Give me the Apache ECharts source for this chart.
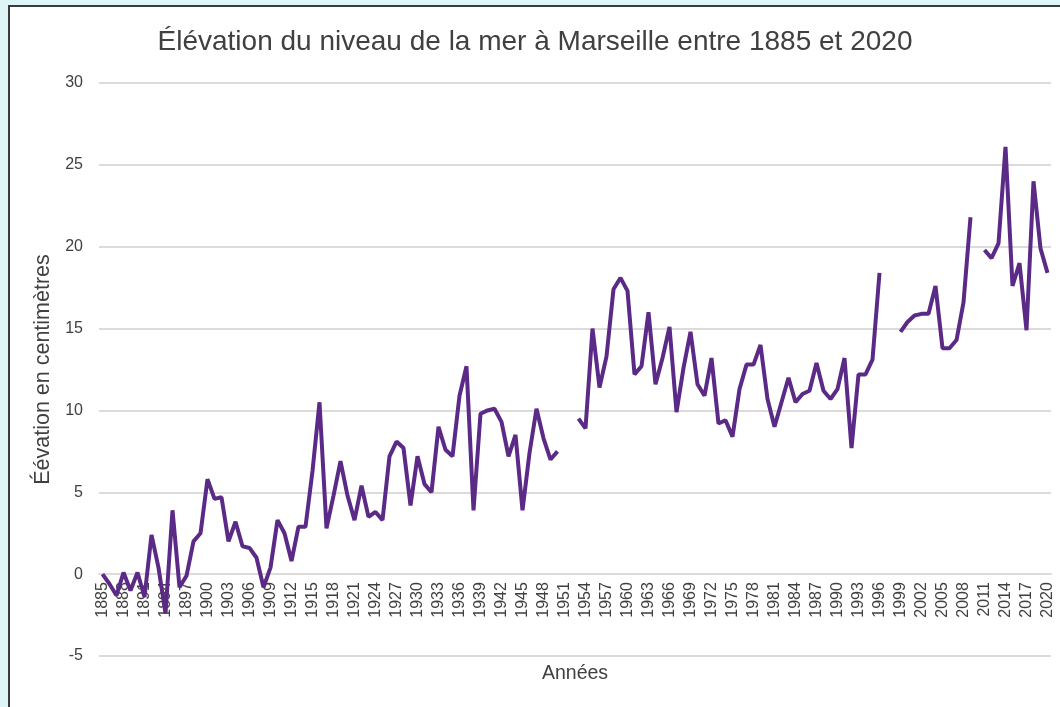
<!DOCTYPE html>
<html lang="fr">
<head>
  <meta charset="UTF-8">
  <title>Élévation du niveau de la mer à Marseille</title>
  <script src="https://cdn.jsdelivr.net/npm/echarts@6/dist/echarts.min.js"></script>
  <style>
    html, body {
      margin: 0;
      padding: 0;
      background: #def5f8;
      overflow: hidden;
    }
    #main {
      position: absolute;
      left: 8px;
      top: 5px;
      width: 1050px;
      height: 700px;
      background: #fff;
      border-left: 2px solid #3a3a3a;
      border-top: 2px solid #3a3a3a;
    }
  </style>
</head>
<body>
  <div id="main"></div>

  <script>
    // années 1885 -> 2020
    const years = [];
    for (let y = 1885; y <= 2020; y++) years.push(String(y));

    // élévation (cm), null = pas de mesure
    const elev1885_1920 = [
      0, -0.6, -1.3, 0.1, -1.0, 0.1, -1.4, 2.4, 0.4, -2.4,
      3.9, -0.8, -0.1, 2.0, 2.5, 5.8, 4.6, 4.7, 2.0, 3.2,
      1.7, 1.6, 1.0, -0.8, 0.4, 3.3, 2.5, 0.8, 2.9, 2.9,
      6.3, 10.5, 2.8, 4.8, 6.9, 4.8
    ];
    const elev1921_1960 = [
      3.3, 5.4, 3.5, 3.8, 3.3, 7.2, 8.1, 7.7, 4.2, 7.2,
      5.5, 5.0, 9.0, 7.6, 7.2, 10.9, 12.7, 3.9, 9.8, 10.0,
      10.1, 9.3, 7.2, 8.5, 3.9, 7.4, 10.1, 8.3, 7.0, 7.5,
      null, null, 9.5, 8.9, 15.0, 11.4, 13.3, 17.4, 18.1, 17.3
    ];
    const elev1961_2000 = [
      12.2, 12.7, 16.0, 11.6, 13.2, 15.1, 9.9, 12.6, 14.8, 11.6,
      10.9, 13.2, 9.2, 9.4, 8.4, 11.3, 12.8, 12.8, 14.0, 10.7,
      9.0, 10.5, 12.0, 10.5, 11.0, 11.2, 12.9, 11.2, 10.7, 11.3,
      13.2, 7.7, 12.2, 12.2, 13.1, 18.4, null, null, 14.8, 15.4
    ];
    const elev2001_2020 = [
      15.8, 15.9, 15.9, 17.6, 13.8, 13.8, 14.3, 16.6, 21.8, null,
      19.8, 19.3, 20.2, 26.1, 17.6, 19.0, 14.9, 24.0, 19.9, 18.4
    ];
    const elevation = [].concat(elev1885_1920, elev1921_1960, elev1961_2000, elev2001_2020);

    const yMin = -5, yMax = 30;
    const gridTop = 76, gridBottom = 51;
    const plotH = 700 - gridTop - gridBottom;
    // l'axe des années passe par 0
    const zeroOffset = -plotH * (0 - yMin) / (yMax - yMin);

    const chart = echarts.init(document.getElementById('main'));
    const font = "'Liberation Sans', Arial, sans-serif";

    const option = {
      animation: false,
      textStyle: { fontFamily: font },
      title: {
        text: 'Élévation du niveau de la mer à Marseille entre 1885 et 2020',
        left: 'center',
        top: 16,
        textStyle: { fontFamily: font, fontSize: 28, fontWeight: 'normal', color: '#404040' }
      },
      grid: { left: 89, right: 9, top: gridTop, bottom: gridBottom, outerBoundsMode: 'none' },
      xAxis: {
        type: 'category',
        data: years,
        name: 'Années',
        nameLocation: 'middle',
        nameGap: 89,
        nameTextStyle: { fontFamily: font, fontSize: 19.5, color: '#404040' },
        offset: zeroOffset,
        axisLine: { onZero: false, lineStyle: { color: '#dedadb', width: 2 } },
        axisTick: { show: false },
        axisLabel: {
          interval: 2,
          rotate: 90,
          margin: 8,
          fontFamily: font,
          fontSize: 16,
          color: '#404040'
        }
      },
      yAxis: {
        type: 'value',
        min: yMin,
        max: yMax,
        interval: 5,
        name: 'Éévation en centimètres',
        nameLocation: 'middle',
        nameGap: 37,
        nameTextStyle: { fontFamily: font, fontSize: 21.5, color: '#404040' },
        axisLine: { show: false },
        axisTick: { show: false },
        axisLabel: { margin: 16, fontFamily: font, fontSize: 16, color: '#404040' },
        splitLine: { lineStyle: { color: '#dedadb', width: 2 } }
      },
      series: [{
        name: 'Élévation',
        type: 'line',
        data: elevation,
        showSymbol: false,
        connectNulls: false,
        lineStyle: { color: '#5b2a86', width: 4 },
        itemStyle: { color: '#5b2a86' }
      }]
    };

    chart.setOption(option);
  </script>
</body>
</html>
